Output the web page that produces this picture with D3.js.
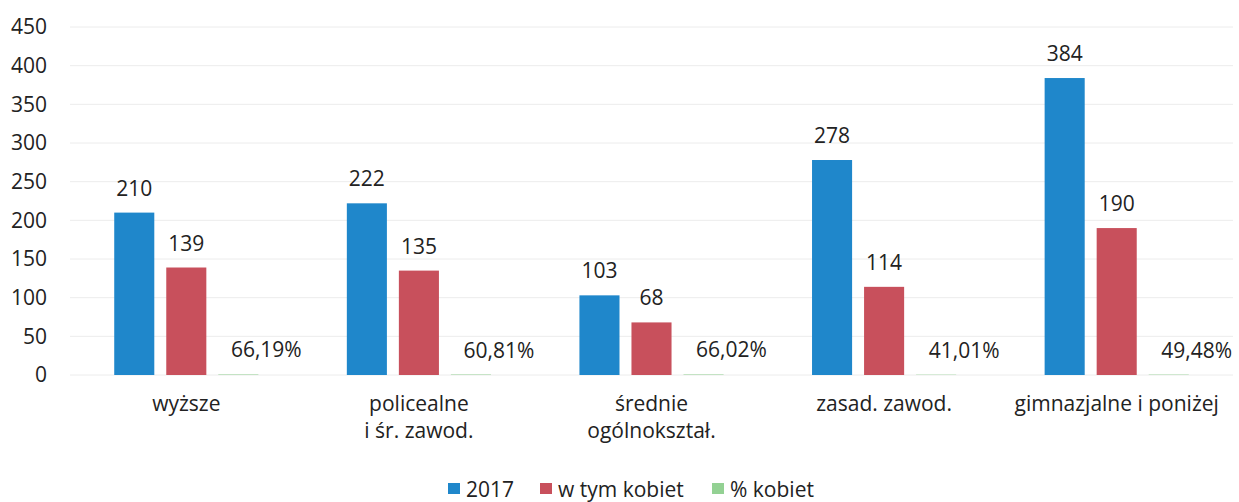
<!DOCTYPE html>
<html>
<head>
<meta charset="utf-8">
<script src="https://cdn.jsdelivr.net/npm/d3@7"></script>
<style>
  body { margin: 0; background: #fff; }
  text { font-family: "Open Sans", sans-serif; fill: #222; }
</style>
</head>
<body>
<div id="chart"></div>
<script>
// categories (line breaks marked with \n)
var categories = ["wyższe", "policealne\ni śr. zawod.", "średnie\nogólnokształ.", "zasad. zawod.", "gimnazjalne i poniżej"];
var series = ["2017", "w tym kobiet", "% kobiet"];
var total2017 = [210, 222, 103, 278, 384];
var women = [139, 135, 68, 114, 190];
var pctWomen = [0.6619, 0.6081, 0.6602, 0.4101, 0.4948];
var yTicks = [0, 50, 100, 150, 200, 250, 300, 350, 400, 450];

var colors = { "2017": "#1f87cb", "w tym kobiet": "#c8505c", "% kobiet": "#93d193" };

var width = 1239, height = 502;
var margin = { top: 27, right: 6, bottom: 127, left: 70 };
var fontSize = "21px";

var svg = d3.select("#chart").append("svg")
    .attr("width", width)
    .attr("height", height);

// scales
var x0 = d3.scaleBand()
    .domain(categories)
    .range([margin.left, width - margin.right]);

var x1 = d3.scaleBand()
    .domain(series)
    .range([0, x0.bandwidth()])
    .paddingInner(0.23)
    .paddingOuter(0.85);

var y = d3.scaleLinear()
    .domain([0, 450])
    .range([height - margin.bottom, margin.top]);

// gridlines
svg.append("g")
    .selectAll("line")
    .data(yTicks)
    .enter().append("line")
    .attr("x1", margin.left)
    .attr("x2", width - margin.right)
    .attr("y1", function (d) { return y(d); })
    .attr("y2", function (d) { return y(d); })
    .attr("stroke", "#ececec")
    .attr("stroke-width", 1);

// y axis labels
var yAxis = svg.append("g")
    .attr("transform", "translate(" + (margin.left - 23) + ",0)")
    .call(d3.axisLeft(y).tickValues(yTicks).tickSize(0).tickPadding(0));
yAxis.select(".domain").remove();
yAxis.selectAll("text")
    .style("font-family", "'Open Sans', sans-serif")
    .style("font-size", fontSize)
    .attr("fill", "#222");

// build rows
var rows = categories.map(function (c, i) {
    return { cat: c, values: [
        { key: "2017", value: total2017[i], label: String(total2017[i]) },
        { key: "w tym kobiet", value: women[i], label: String(women[i]) },
        { key: "% kobiet", value: pctWomen[i], label: d3.format(".2f")(pctWomen[i] * 100).replace(".", ",") + "%" }
    ] };
});

var groups = svg.append("g")
    .selectAll("g")
    .data(rows)
    .enter().append("g")
    .attr("transform", function (d) { return "translate(" + x0(d.cat) + ",0)"; });

groups.selectAll("rect")
    .data(function (d) { return d.values; })
    .enter().append("rect")
    .attr("x", function (d) { return x1(d.key); })
    .attr("width", x1.bandwidth())
    .attr("y", function (d) { return y(d.value); })
    .attr("height", function (d) { return y(0) - y(d.value); })
    .attr("fill", function (d) { return colors[d.key]; });

// value labels (percent labels sit a bit to the right, as in the original)
groups.selectAll("text.val")
    .data(function (d) { return d.values; })
    .enter().append("text")
    .attr("class", "val")
    .attr("x", function (d) {
        var cx = x1(d.key) + x1.bandwidth() / 2;
        return d.key === "% kobiet" ? cx + 28 : cx;
    })
    .attr("y", function (d) { return y(d.value) - 17; })
    .attr("text-anchor", "middle")
    .style("font-size", fontSize)
    .text(function (d) { return d.label; });

// category labels
var catLabels = svg.append("g")
    .selectAll("text")
    .data(categories)
    .enter().append("text")
    .attr("x", function (d) { return x0(d) + x0.bandwidth() / 2; })
    .attr("y", 411)
    .attr("text-anchor", "middle")
    .style("font-size", fontSize);

catLabels.each(function (d) {
    var t = d3.select(this);
    d.split("\n").forEach(function (line, i) {
        t.append("tspan")
            .attr("x", x0(d) + x0.bandwidth() / 2)
            .attr("dy", i === 0 ? 0 : 27)
            .text(line);
    });
});

// legend
var legendX = [448, 540, 712];
var legend = svg.append("g")
    .selectAll("g")
    .data(series)
    .enter().append("g")
    .attr("transform", function (d, i) { return "translate(" + legendX[i] + ",483)"; });

legend.append("rect")
    .attr("width", 12)
    .attr("height", 11)
    .attr("fill", function (d) { return colors[d]; });

legend.append("text")
    .attr("x", 18)
    .attr("y", 14)
    .style("font-size", fontSize)
    .text(function (d) { return d; });
</script>
</body>
</html>
